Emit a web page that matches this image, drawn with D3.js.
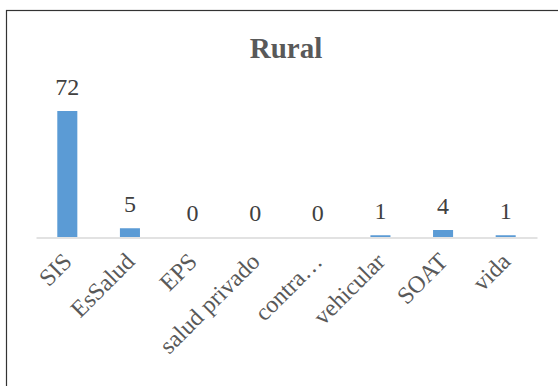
<!DOCTYPE html>
<html>
<head>
<meta charset="utf-8">
<script src="https://cdn.jsdelivr.net/npm/d3@7"></script>
<style>
  body { margin: 0; background: #fff; }
  svg { display: block; font-family: "Liberation Serif", "Times New Roman", serif; }
</style>
</head>
<body>
<div id="chart"></div>
<script>
const categories = ["SIS", "EsSalud", "EPS", "salud privado", "contra…", "vehicular", "SOAT", "vida"];
const values = [72, 5, 0, 0, 0, 1, 4, 1];
const chartTitle = "Rural";

const width = 558, height = 386;
const margin = {top: 97, right: 21, bottom: 149, left: 36};

const svg = d3.select("#chart")
  .append("svg")
  .attr("width", width)
  .attr("height", height);

// outer frame, runs off the right and bottom edges
svg.append("rect")
  .attr("x", 6.5).attr("y", 10.5)
  .attr("width", 700).attr("height", 500)
  .attr("fill", "none")
  .attr("stroke", "#333")
  .attr("stroke-width", 1.2);

svg.append("text")
  .attr("x", 286).attr("y", 58)
  .attr("text-anchor", "middle")
  .attr("font-size", 29)
  .attr("font-weight", "bold")
  .attr("fill", "#595959")
  .text(chartTitle);

const x = d3.scaleBand()
  .domain(categories)
  .range([margin.left, width - margin.right])
  .paddingInner(0.68)
  .paddingOuter(0.34);

const y = d3.scaleLinear()
  .domain([0, 80])
  .range([height - margin.bottom, margin.top]);

// bars
svg.selectAll("rect.bar")
  .data(values)
  .enter()
  .append("rect")
  .attr("class", "bar")
  .attr("x", (d, i) => x(categories[i]))
  .attr("y", d => y(d))
  .attr("width", x.bandwidth())
  .attr("height", d => y(0) - y(d))
  .attr("fill", "#5b9bd5");

// x axis line
const xAxis = svg.append("g")
  .attr("transform", "translate(0," + (y(0) + 0.5) + ")")
  .call(d3.axisBottom(x).tickSize(0).tickSizeOuter(0).tickFormat(""));
xAxis.select(".domain").attr("stroke", "#d9d9d9").attr("stroke-width", 1.5);

// category labels, rotated
svg.selectAll("text.cat")
  .data(categories)
  .enter()
  .append("text")
  .attr("class", "cat")
  .attr("transform", d => "translate(" + (x(d) + x.bandwidth() / 2 + 6) + "," + (y(0) + 26) + ") rotate(-45)")
  .attr("text-anchor", "end")
  .attr("font-size", 24)
  .attr("fill", "#595959")
  .text(d => d);

// value labels
svg.selectAll("text.val")
  .data(values)
  .enter()
  .append("text")
  .attr("class", "val")
  .attr("x", (d, i) => x(categories[i]) + x.bandwidth() / 2)
  .attr("y", d => y(d) - 16)
  .attr("text-anchor", "middle")
  .attr("font-size", 24)
  .attr("fill", "#404040")
  .text(d => d);
</script>
</body>
</html>
